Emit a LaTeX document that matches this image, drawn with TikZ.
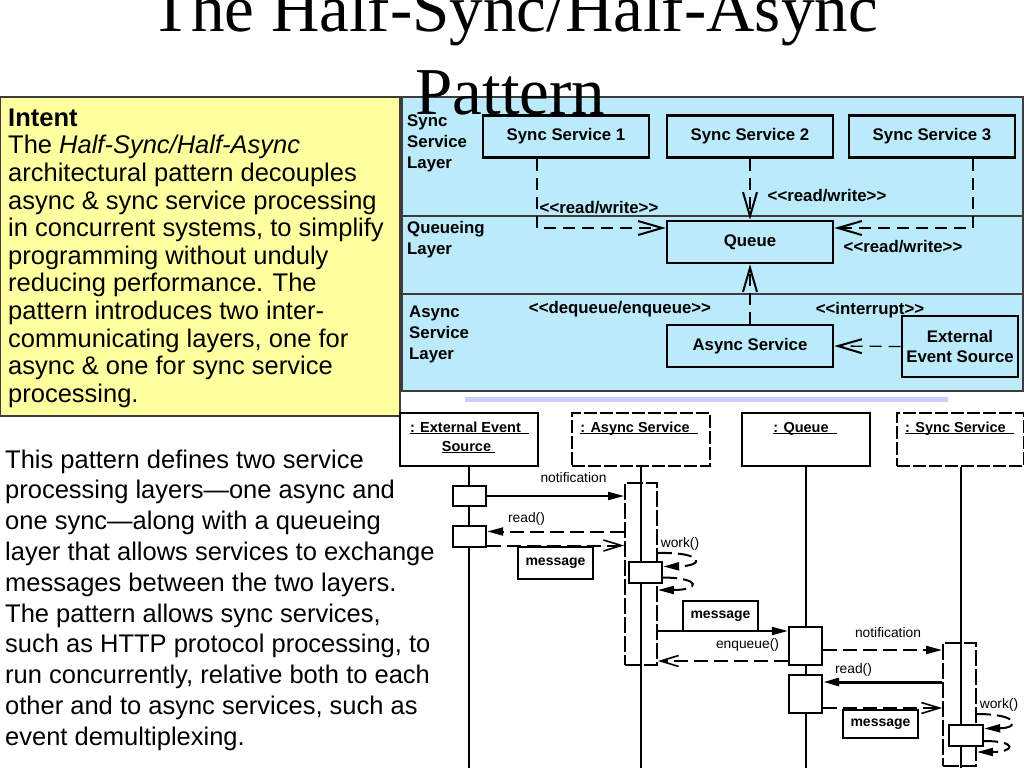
\documentclass[tikz,border=0pt]{standalone}
\usepackage{fontspec}
\newfontfamily\slidefont{Liberation Sans}
\newfontfamily\titlefont{Liberation Serif}
\usetikzlibrary{arrows.meta,positioning}
\definecolor{intentyellow}{HTML}{FFFFA0}
\definecolor{layerblue}{HTML}{BBEBFA}
\definecolor{barlilac}{HTML}{CCCCFF}
\definecolor{edgegray}{HTML}{3C3C3C}
\newcommand{\objname}[1]{\underline{\smash{#1}}}

\begin{document}
\begin{tikzpicture}[x=1pt,y=-1pt,font=\slidefont,
    ttl/.style={anchor=base,inner sep=0pt,font=\titlefont\fontsize{67}{82}\selectfont},
    body/.style={anchor=north west,inner sep=0pt,align=left},
    layer/.style={anchor=north west,inner sep=0pt,align=left,font=\slidefont\bfseries\fontsize{16.8}{20.7}\selectfont},
    svc/.style={draw,line width=2.6pt,minimum width=166pt,minimum height=42pt,inner sep=0pt,align=center,font=\slidefont\bfseries\fontsize{16.8}{20.7}\selectfont},
    stereo/.style={anchor=base,inner sep=0pt,font=\slidefont\bfseries\fontsize{16.8}{20.7}\selectfont},
    dep/.style={line width=1.3pt,dash pattern=on 12pt off 7pt,-{Straight Barb[length=24pt,width=14pt,line width=2pt]}},
    obj/.style={draw,line width=2pt,minimum width=138pt,minimum height=53pt,inner sep=0pt},
    objd/.style={obj,dash pattern=on 13pt off 3pt},
    objtext/.style={anchor=base,inner sep=0pt,font=\slidefont\bfseries\fontsize{14.5}{18}\selectfont},
    act/.style={draw,line width=2.4pt,fill=white,minimum width=33pt,inner sep=0pt},
    actd/.style={draw,line width=1.8pt,dash pattern=on 16pt off 3pt,minimum width=32pt,inner sep=0pt},
    msgbox/.style={draw,line width=2.2pt,minimum width=75pt,minimum height=30pt,inner sep=0pt,font=\slidefont\bfseries\fontsize{14}{16}\selectfont},
    lbl/.style={anchor=base,inner sep=0pt,font=\slidefont\fontsize{13.8}{16}\selectfont},
    call/.style={line width=2pt,-{Triangle[length=16pt,width=8pt]}},
    back/.style={line width=2pt,dash pattern=on 14pt off 6pt,-{Triangle[length=16pt,width=8pt]}},
    send/.style={line width=2pt,dash pattern=on 14pt off 6pt,-{Straight Barb[length=18pt,width=11pt,line width=1.6pt]}}]
  \useasboundingbox (0,0) rectangle (1024,768);
  \clip (0,0) rectangle (1024,768);
  % intent panel
  \filldraw[fill=intentyellow,draw=edgegray,line width=1.5pt] (0,97) rectangle (400,416);
  \node[body,font=\slidefont\fontsize{25.5}{27.6}\selectfont] (intent) at (8,108.5) {{\bfseries Intent}\\The \textit{Half-Sync/Half-Async}\\architectural pattern decouples\\async \& sync service processing\\in concurrent systems, to simplify\\programming without unduly\\reducing performance. The\\pattern introduces two inter-\\communicating layers, one for\\async \& one for sync service\\processing.};
  \node[body,font=\slidefont\fontsize{25.5}{30.8}\selectfont] (about) at (5,449.5) {This pattern defines two service\\processing layers—one async and\\one sync—along with a queueing\\layer that allows services to exchange\\messages between the two layers.\\The pattern allows sync services,\\such as HTTP protocol processing, to\\run concurrently, relative both to each\\other and to async services, such as\\event demultiplexing.};
  % layered architecture
  \filldraw[fill=layerblue,draw=edgegray,line width=1.5pt] (402,97) rectangle (1023,391);
  \draw[edgegray,line width=1.5pt] (402,216) -- (1023,216);
  \draw[edgegray,line width=1.5pt] (402,294) -- (1023,294);
  \fill[barlilac] (465,397) rectangle (948,402);
  \node[layer] (synclayer) at (407,115) {Sync\\Service\\Layer};
  \node[layer] (queuelayer) at (407,221) {Queueing\\Layer};
  \node[layer] (asynclayer) at (409,306) {Async\\Service\\Layer};
  \node[svc] (ss1) at (566,136.5) {Sync Service 1};
  \node[svc] (ss2) at (750,136.5) {Sync Service 2};
  \node[svc] (ss3) at (932,136.5) {Sync Service 3};
  \node[svc] (queue) at (750,242) {Queue};
  \node[svc] (asvc) at (750,346) {Async Service};
  \node[stereo] (rw1) at (599,213) {<<read/write>>};
  \node[stereo] (rw2) at (827,201) {<<read/write>>};
  \node[stereo] (rw3) at (903,252) {<<read/write>>};
  \node[stereo] (deq) at (620,313) {<<dequeue/enqueue>>};
  \node[stereo] (intr) at (870,314) {<<interrupt>>};
  \node[svc,minimum width=116pt,minimum height=61pt] (ees) at (960,346.5) {External\\Event Source};
  \draw[dep] ([xshift=-29pt]ss1.south) |- ([yshift=14pt]queue.west);
  \draw[dep] (ss2.south) -- (queue.north);
  \draw[dep] ([xshift=41pt]ss3.south) |- ([yshift=14pt]queue.east);
  \draw[dep] (asvc.north) -- (queue.south);
  \draw[dep] (ees.west) -- (asvc.east);
  \node[ttl] (title) at (514,32) {The Half-Sync/Half-Async};
  \node[ttl] (title2) at (510.5,114) {Pattern};
  % sequence diagram
  \coordinate (bot) at (0,768);
  \node[obj] (oees) at (469,439) {};
  \node[objd] (oasvc) at (640.5,439) {};
  \node[obj,minimum width=128pt] (oqueue) at (806,439) {};
  \node[objd,minimum width=127pt] (osync) at (960.5,439) {};
  \node[objtext] (tees) at (469.5,432) {\objname{: External Event\ \ }};
  \node[objtext] (tees2) at (468.5,451) {\objname{Source\ }};
  \node[objtext] (tasvc) at (639,432) {\objname{: Async Service\ \ }};
  \node[objtext] (tqueue) at (805,432) {\objname{: Queue\ \ }};
  \node[objtext] (tsync) at (959.5,432) {\objname{: Sync Service\ \ }};
  \foreach \obj in {oees,oasvc,oqueue,osync}
    \draw[line width=2pt] (\obj.south) -- (\obj.south |- bot);
  \node[act,minimum height=20pt] (a1) at (469.5,496) {};
  \node[act,minimum height=21pt] (a2) at (469.5,536.5) {};
  \node[actd,minimum height=182pt] (aasvc) at (641,574) {};
  \node[act,minimum height=21pt] (w1) at (645.5,572.5) {};
  \node[act,minimum height=38pt] (q1) at (805.5,646) {};
  \node[act,minimum height=38pt] (q2) at (805.5,694) {};
  \node[actd,minimum width=33pt,minimum height=123pt] (async) at (959.5,704.5) {};
  \node[act,minimum width=34pt,minimum height=21pt] (w2) at (966,735.5) {};
  \node[msgbox,minimum height=32pt] (msg1) at (555.5,563) {message};
  \node[msgbox] (msg2) at (720.5,616) {message};
  \node[msgbox,minimum height=28pt] (msg3) at (880.5,724) {message};
  \draw[call] (a1.east) -- (a1.east -| aasvc.west);
  \node[lbl] (m1) at (573.5,482) {notification};
  \draw[back] ([yshift=5pt]a2.east -| aasvc.west) -- ([yshift=5pt]a2.east);
  \node[lbl] (m2) at (526.5,522) {read()};
  \draw[send] ([yshift=-9pt]a2.east) -- ([yshift=-9pt]a2.east -| aasvc.west);
  \draw[back] ([yshift=21pt]aasvc.east) .. controls (705,552) and (705,566) .. ([yshift=6pt]w1.east);
  \draw[back] ([yshift=-5pt]w1.east) .. controls (702,578) and (700,590) .. ([yshift=-16pt]aasvc.east);
  \node[lbl] (m3) at (680,547) {work()};
  \draw[call] ([yshift=15pt]q1.west -| aasvc.east) -- ([yshift=15pt]q1.west);
  \node[lbl] (m4) at (747.5,648) {enqueue()};
  \draw[send] ([yshift=-15pt]q1.west) -- ([yshift=-15pt]q1.west -| aasvc.east);
  \draw[back] ([yshift=-4pt]q1.east) -- ([yshift=-4pt]q1.east -| async.west);
  \node[lbl] (m5) at (888,637) {notification};
  \draw[call,line width=3pt] ([yshift=12pt]q2.east -| async.west) -- ([yshift=12pt]q2.east);
  \node[lbl] (m6) at (853.5,673) {read()};
  \draw[send] ([yshift=-14pt]q2.east) -- ([yshift=-14pt]q2.east -| async.west);
  \draw[back] ([yshift=-9.5pt]async.east) .. controls (1020,714) and (1020,728) .. ([yshift=7pt]w2.east);
  \draw[back] ([yshift=-5.5pt]w2.east) .. controls (1018,741) and (1015,752) .. ([yshift=-47.5pt]async.east);
  \node[lbl] (m7) at (999,708) {work()};
\end{tikzpicture}
\end{document}
